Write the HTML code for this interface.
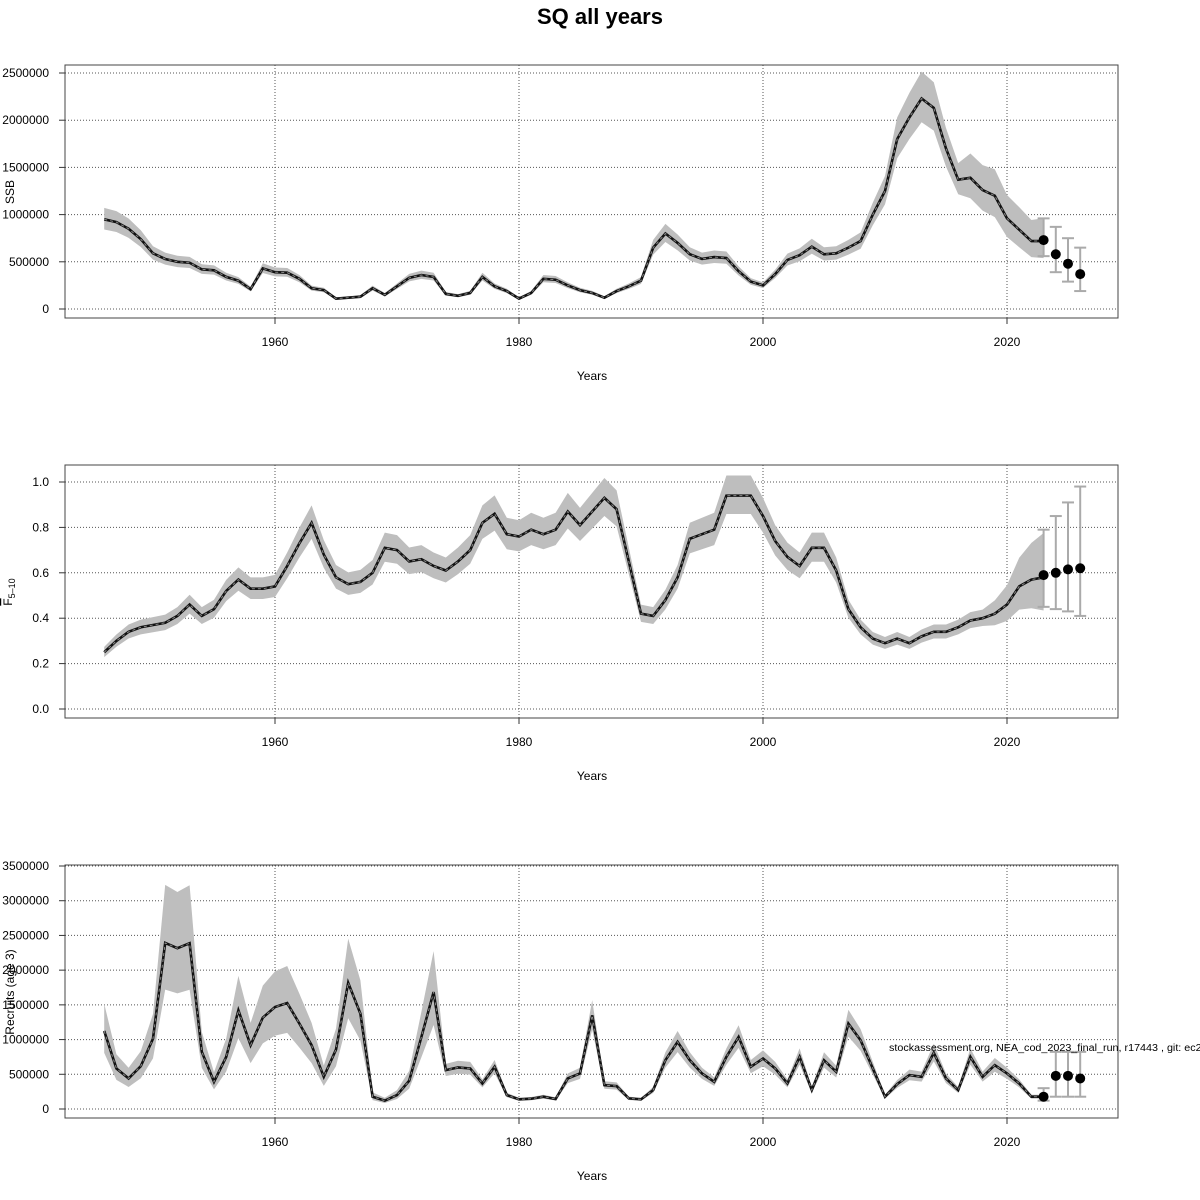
<!DOCTYPE html>
<html><head><meta charset="utf-8"><style>
body{margin:0;background:#fff}
svg{display:block;font-family:"Liberation Sans",sans-serif}
</style></head><body>
<svg id="s" width="1200" height="1200" xmlns="http://www.w3.org/2000/svg">
<text x="600" y="24" text-anchor="middle" font-size="22" font-weight="bold">SQ all years</text>
</svg>
<script>
const S=document.getElementById('s');
const NS='http://www.w3.org/2000/svg';
function el(t,a,txt){const e=document.createElementNS(NS,t);for(const k in a)e.setAttribute(k,a[k]);if(txt!=null)e.textContent=txt;S.appendChild(e);return e;}
const X=y=>275+(y-1960)*12.2;
const ssb=[950,920,850,740,590,530,500,490,420,410,340,300,210,205,430,390,385,320,220,200,110,120,130,220,150,240,330,360,340,160,140,170,340,240,190,110,170,320,310,250,200,170,120,190,240,300,650,800,700,580,530,550,540,400,290,250,370,520,570,660,580,590,650,720,1000,1250,1800,2030,2230,2130,1700,1370,1390,1260,1200,960,840,720,720].map(v=>v*1000);
ssb.splice(13,1);
const F=[.25,.30,.34,.36,.37,.38,.41,.46,.41,.44,.52,.57,.53,.53,.54,.54,.63,.73,.82,.68,.58,.55,.56,.60,.71,.70,.65,.66,.63,.61,.65,.70,.82,.86,.77,.76,.79,.77,.79,.87,.81,.87,.93,.88,.65,.42,.41,.48,.58,.75,.77,.79,.94,.94,.94,.85,.74,.67,.63,.71,.71,.61,.44,.36,.31,.29,.31,.29,.32,.34,.34,.36,.39,.40,.42,.46,.54,.57,.58];
F.splice(14,1);
const R=[1124,584,440,617,1014,2392,2316,2388,823,392,751,1421,919,1316,1469,1526,1230,919,464,856,1818,1373,177,120,201,407,1038,1684,560,598,584,368,608,201,139,148,177,144,440,512,1349,344,330,153,139,273,703,967,703,512,392,751,1038,608,727,584,368,751,273,703,536,1230,990,584,177,359,488,464,809,440,273,751,464,632,512,368,177,177].map(v=>v*1000);
function panel(top,data,yt,ymax,ytopOff,fmt,band,proj){
  const bot=top+253, y0=top+244, ytop=top+ytopOff;
  const Y=v=>y0-(v/ymax)*(y0-ytop);
  let up=[],lo=[];
  data.forEach((v,i)=>{const [l,u]=band(v,i);up.push(X(1946+i)+','+Y(u));lo.unshift(X(1946+i)+','+Y(l));});
  yt.forEach(t=>{el('line',{x1:65,x2:1118,y1:Y(t),y2:Y(t),stroke:'#555','stroke-dasharray':'1,2','stroke-width':1});
    el('line',{x1:59,x2:65,y1:Y(t),y2:Y(t),stroke:'#333'});
    el('text',{x:49,y:Y(t)+4,'text-anchor':'end','font-size':12},fmt(t));});
  [1960,1980,2000,2020].forEach(t=>{el('line',{x1:X(t),x2:X(t),y1:top,y2:bot,stroke:'#555','stroke-dasharray':'1,2'});
    el('line',{x1:X(t),x2:X(t),y1:bot,y2:bot+6,stroke:'#333'});
    el('text',{x:X(t),y:bot+28,'text-anchor':'middle','font-size':12},t);});
  el('polygon',{points:up.concat(lo).join(' '),fill:'#bebebe'});
  const pts=data.map((v,i)=>X(1946+i)+','+Y(v)).join(' ');
  el('polyline',{points:pts,fill:'none',stroke:'#111','stroke-width':2.6});
  el('polyline',{points:pts,fill:'none',stroke:'#888','stroke-width':1,'stroke-dasharray':'3,3'});
  proj.forEach(p=>{const x=X(p[0]);
    el('line',{x1:x,x2:x,y1:Y(p[2]),y2:Y(p[3]),stroke:'#aaa','stroke-width':2});
    el('line',{x1:x-6,x2:x+6,y1:Y(p[2]),y2:Y(p[2]),stroke:'#aaa','stroke-width':2});
    el('line',{x1:x-6,x2:x+6,y1:Y(p[3]),y2:Y(p[3]),stroke:'#aaa','stroke-width':2});
    el('circle',{cx:x,cy:Y(p[1]),r:5,fill:'#000'});});
  el('rect',{x:65,y:top,width:1053,height:253,fill:'none',stroke:'#444','stroke-width':1});
  el('text',{x:592,y:bot+62,'text-anchor':'middle','font-size':12},'Years');
}
panel(65,ssb,[0,500000,1000000,1500000,2000000,2500000],2500000,8,t=>t,
 (v,i)=>{const s=i>70?0.15+(i-70)*0.02:0.12;return [v*Math.exp(-s),v*Math.exp(s)];},
 [[2023,730000,560000,960000],[2024,580000,390000,870000],[2025,480000,290000,750000],[2026,370000,190000,650000]]);
panel(465,F,[0,.2,.4,.6,.8,1],1.0,17,t=>t.toFixed(1),
 (v,i)=>{const s=i>72?0.09+(i-72)*0.04:0.09;return [v*Math.exp(-s),v*Math.exp(s)];},
 [[2023,.59,.45,.79],[2024,.60,.44,.85],[2025,.615,.43,.91],[2026,.62,.41,.98]]);
panel(865,R,[0,500000,1000000,1500000,2000000,2500000,3000000,3500000],3500000,1,t=>t,
 (v,i)=>{const s=i<28?0.3:0.15;return [v*Math.exp(-s*1.1),v*Math.exp(s)];},
 [[2023,177000,120000,300000],[2024,478000,177000,823000],[2025,478000,177000,823000],[2026,440000,177000,823000]]);
el('text',{x:14,y:192,'text-anchor':'middle','font-size':12,transform:'rotate(-90 14 192)'},'SSB');
const f=el('text',{x:12,y:592,'text-anchor':'middle','font-size':12,transform:'rotate(-90 12 592)'});
f.innerHTML='<tspan text-decoration="overline">F</tspan><tspan font-size="9" dy="3">5–10</tspan>';
el('text',{x:14,y:992,'text-anchor':'middle','font-size':12,transform:'rotate(-90 14 992)'},'Recruits (age 3)');
el('text',{x:889,y:1051,'font-size':10,textLength:318,lengthAdjust:'spacingAndGlyphs'},'stockassessment.org, NEA_cod_2023_final_run, r17443 , git: ec2c');
</script>
</body></html>
